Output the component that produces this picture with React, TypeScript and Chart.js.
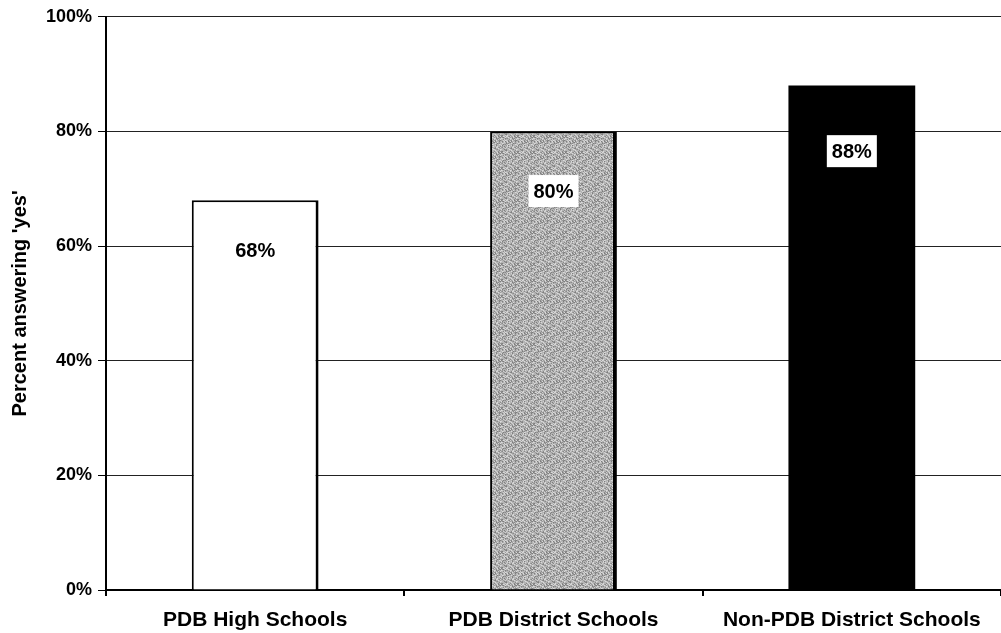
import React, { useEffect, useRef } from "react";
import { Chart, registerables } from "chart.js";

Chart.register(...registerables);

const categories = ["PDB High Schools", "PDB District Schools", "Non-PDB District Schools"];
const values = [68, 80, 88];
const valueLabels = ["68%", "80%", "88%"];
const yTicks = [0, 20, 40, 60, 80, 100];
const yTitle = "Percent answering 'yes'";

function makeSpeckle(): CanvasPattern | string {
  const c = document.createElement("canvas");
  c.width = 16;
  c.height = 16;
  const ctx = c.getContext("2d");
  if (!ctx) return "#a8a8a8";
  ctx.fillStyle = "#b4b4b4";
  ctx.fillRect(0, 0, 16, 16);
  const shades = ["#8a8a8a", "#cfcfcf", "#9c9c9c", "#dadada", "#7e7e7e"];
  for (let y = 0; y < 16; y++) {
    for (let x = 0; x < 16; x++) {
      const h = (x * 7 + y * 13 + ((x * y) % 5) * 3) % 9;
      if (h < shades.length) {
        ctx.fillStyle = shades[h];
        ctx.fillRect(x, y, 1, 1);
      }
    }
  }
  const p = ctx.createPattern(c, "repeat");
  return p || "#a8a8a8";
}

const labelPlugin = {
  id: "valueBoxes",
  afterDatasetsDraw(chart: any) {
    const ctx = chart.ctx;
    const meta = chart.getDatasetMeta(0);
    const yScale = chart.scales.y;
    ctx.save();
    ctx.font = "bold 20px 'Liberation Sans', Arial, sans-serif";
    ctx.textAlign = "center";
    ctx.textBaseline = "middle";
    meta.data.forEach((bar: any, i: number) => {
      const base = yScale.getPixelForValue(0);
      const h = base - bar.y;
      const cy = bar.y + h * 0.13;
      const text = valueLabels[i];
      const w = ctx.measureText(text).width;
      ctx.fillStyle = "#ffffff";
      ctx.fillRect(bar.x - w / 2 - 5, cy - 16, w + 10, 32);
      ctx.fillStyle = "#000000";
      ctx.fillText(text, bar.x, cy + 1);
    });
    ctx.restore();
  },
};

export default function App() {
  const ref = useRef<HTMLCanvasElement>(null);
  useEffect(() => {
    if (!ref.current) return;
    const speckle = makeSpeckle();
    const chart = new Chart(ref.current, {
      type: "bar",
      data: {
        labels: categories,
        datasets: [
          {
            data: values,
            backgroundColor: ["#ffffff", speckle as any, "#000000"],
            borderColor: "#000000",
            borderWidth: [
              { left: 2, right: 3, top: 2, bottom: 0 },
              { left: 2, right: 4, top: 2, bottom: 0 },
              { left: 0, right: 0, top: 0, bottom: 0 },
            ] as any,
            borderSkipped: "start",
            barPercentage: 0.425,
            categoryPercentage: 1,
          },
        ],
      },
      options: {
        animation: false,
        responsive: false,
        devicePixelRatio: 1,
        layout: { padding: { top: 16, right: 0, left: 0, bottom: 0 } },
        plugins: { legend: { display: false }, tooltip: { enabled: false } },
        scales: {
          x: {
            offset: true,
            grid: {
              offset: true,
              drawOnChartArea: false,
              drawTicks: true,
              tickLength: 6,
              color: "#000000",
              lineWidth: 2,
            },
            border: { display: true, color: "#000000", width: 2 },
            ticks: {
              color: "#000000",
              padding: 12,
              maxRotation: 0,
              font: { family: "'Liberation Sans', Arial, sans-serif", size: 21, weight: "bold" },
            },
            afterFit: (scale: any) => {
              scale.height = 43;
            },
          },
          y: {
            min: 0,
            max: 100,
            afterBuildTicks: (scale: any) => {
              scale.ticks = yTicks.map((v) => ({ value: v }));
            },
            grid: {
              color: "#222222",
              lineWidth: 1,
              drawTicks: true,
              tickLength: 8,
              tickColor: "#000000",
            },
            border: { display: true, color: "#000000", width: 2 },
            ticks: {
              color: "#000000",
              padding: 6,
              callback: (v: any) => v + "%",
              font: { family: "'Liberation Sans', Arial, sans-serif", size: 18, weight: "bold" },
            },
            title: {
              display: true,
              text: yTitle,
              color: "#000000",
              padding: { top: 8, bottom: 0 },
              font: { family: "'Liberation Sans', Arial, sans-serif", size: 20, weight: "bold" },
            },
            afterFit: (scale: any) => {
              scale.width = 106;
            },
          },
        },
      },
      plugins: [labelPlugin],
    });
    return () => chart.destroy();
  }, []);
  return (
    <div style={{ position: "absolute", left: 0, top: 0, width: 1001, height: 633, background: "#ffffff" }}>
      <canvas ref={ref} width={1001} height={633} style={{ display: "block" }} />
    </div>
  );
}
